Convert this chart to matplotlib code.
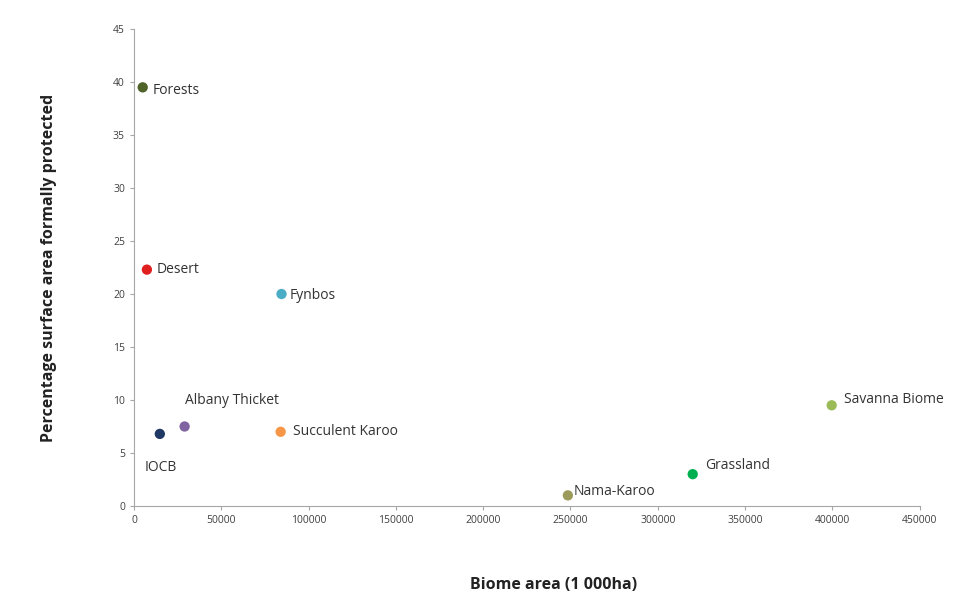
import matplotlib
matplotlib.use("Agg")
import matplotlib.pyplot as plt

names = ["Forests", "Desert", "Fynbos", "Albany Thicket", "IOCB",
         "Succulent Karoo", "Nama-Karoo", "Grassland", "Savanna Biome"]
area = [5000, 7400, 84500, 29000, 14800, 84000, 248500, 320000, 399600]
protected = [39.5, 22.3, 20.0, 7.5, 6.8, 7.0, 1.0, 3.0, 9.5]
colors = ["#4f6228", "#e02020", "#4bacc6", "#8064a2", "#1f3864",
          "#f79646", "#9c9b5c", "#00b050", "#9bbb59"]
offsets = [(7, -2), (7, 0), (6, -1), (0, 19), (-11, -24),
           (9, 0), (4, 3), (9, 6), (9, 4)]

plt.rcParams['font.family'] = ['Open Sans', 'DejaVu Sans']

fig = plt.figure(figsize=(9.57, 6.13), dpi=100)
ax = fig.add_axes([0.140, 0.1746, 0.821, 0.778])

ax.scatter(area, protected, s=55, c=colors, zorder=3, edgecolors='none')
for n, x, y, off in zip(names, area, protected, offsets):
    ax.annotate(n, (x, y), xytext=off, textcoords='offset points',
                ha='left', va='center', fontsize=10, color='#333333')

ax.set_xlim(0, 450000)
ax.set_ylim(0, 45)
ax.set_xticks(range(0, 450001, 50000))
ax.set_yticks(range(0, 46, 5))
for s in ['top', 'right']:
    ax.spines[s].set_visible(False)
for s in ['left', 'bottom']:
    ax.spines[s].set_color('#a6a6a6')
ax.tick_params(colors='#a6a6a6', labelcolor='#404040', labelsize=7.5, length=3)
ax.set_xlabel("Biome area (1 000ha)", fontsize=11.5, fontweight='bold', color='#222222')
ax.xaxis.set_label_coords(0.5345, -0.148)
ax.set_ylabel("Percentage surface area formally protected", fontsize=11.5, fontweight='bold',
              labelpad=40, color='#222222')

fig.savefig("out.png", dpi=100)
